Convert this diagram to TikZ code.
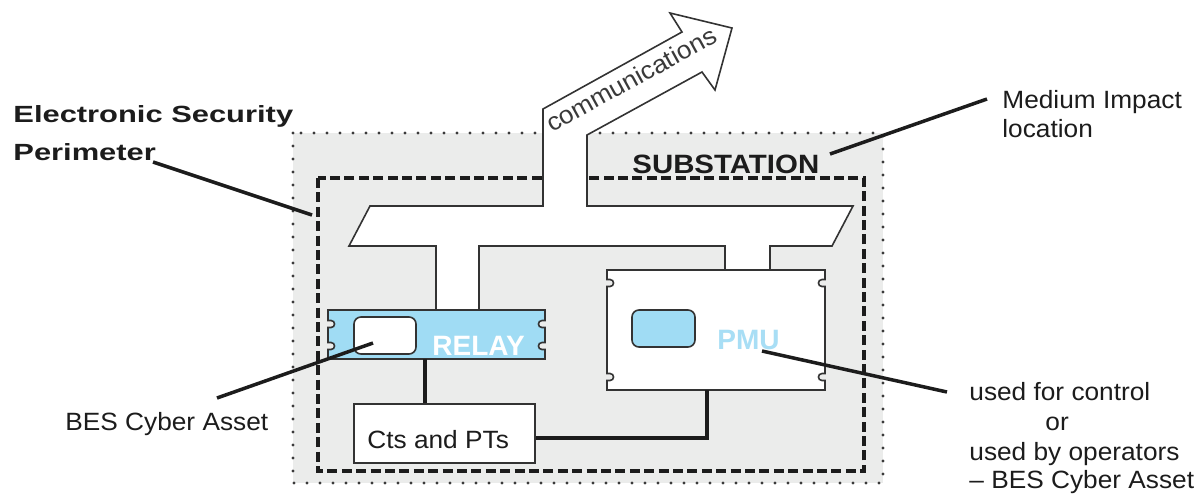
\documentclass[tikz,border=0pt]{standalone}
\usepackage{fontspec}
\usepackage{graphicx}
\setmainfont{Liberation Sans}
\definecolor{bggray}{HTML}{EBECEB}
\definecolor{relayblue}{HTML}{A0DCF4}
\definecolor{pmublue}{HTML}{A8DEF5}
\definecolor{linegray}{HTML}{333333}
\definecolor{dotgray}{HTML}{3A3A3A}
\definecolor{inkdark}{HTML}{1C1C1C}
\definecolor{commgray}{HTML}{3A3A3A}
\newcommand{\wtext}[2]{\scalebox{#1}[1]{#2}}
\newcommand{\regtext}[1]{\fontsize{12.5pt}{15pt}\selectfont\wtext{1.05}{#1}}
\newcommand{\notchbox}[7]{%
  \draw[boxline,fill=#7] (#1,#2) -- (#3,#2) -- (#3,#5-3.5) -- (#3-3,#5-3.5)
    .. controls (#3-7.7,#5-3.5) and (#3-7.7,#5+3.5) .. (#3-3,#5+3.5) -- (#3,#5+3.5)
    -- (#3,#6-3.5) -- (#3-3,#6-3.5)
    .. controls (#3-7.7,#6-3.5) and (#3-7.7,#6+3.5) .. (#3-3,#6+3.5) -- (#3,#6+3.5)
    -- (#3,#4) -- (#1,#4) -- (#1,#6+3.5) -- (#1+3,#6+3.5)
    .. controls (#1+7.7,#6+3.5) and (#1+7.7,#6-3.5) .. (#1+3,#6-3.5) -- (#1,#6-3.5)
    -- (#1,#5+3.5) -- (#1+3,#5+3.5)
    .. controls (#1+7.7,#5+3.5) and (#1+7.7,#5-3.5) .. (#1+3,#5-3.5) -- (#1,#5-3.5)
    -- cycle;}
\tikzset{
  outerzone/.style={fill=bggray, draw=dotgray, line width=1.6pt, dash pattern=on 0pt off 6.5pt, line cap=round},
  espline/.style={draw=inkdark, line width=1.8pt, dash pattern=on 5pt off 2.2pt},
  commshape/.style={fill=white, draw=linegray, line width=0.8pt, line join=miter},
  boxline/.style={draw=linegray, line width=0.8pt},
  screen/.style={boxline, rounded corners=3.5pt, inner sep=0pt},
  anchorbox/.style={inner sep=0pt},
  callout/.style={draw=inkdark, line width=1.75pt},
  wire/.style={draw=inkdark, line width=2pt},
  lbl/.style={inner sep=0pt, anchor=base west, text=inkdark}
}
\begin{document}
\begin{tikzpicture}[x=0.5pt,y=-0.5pt]
\useasboundingbox (0,0) rectangle (1201,495);
% zones
\draw[outerzone] (293,133) rectangle (883,483);
\draw[espline] (318,178) rectangle (864,471);
% communications network shape
\draw[commshape] (349,246) -- (370,206) -- (543,206) -- (543,109) -- (682,32) -- (670,13)
  -- (732,28) -- (715,90) -- (702,72) -- (587,135) -- (587,206) -- (853,206) -- (832,246)
  -- (770,246) -- (770,270) -- (725,270) -- (725,246) -- (479,246) -- (479,310) -- (436,310)
  -- (436,246) -- cycle;
\node[lbl, rotate=28.8, text=commgray] (comm) at (552,133) {\fontsize{12.5pt}{14pt}\selectfont\wtext{1.05}{communications}};
% relay
\notchbox{328}{310}{545}{359}{324}{346}{relayblue}
\node[anchorbox, minimum width=108.5pt, minimum height=24.5pt] (relay) at (436.5,334.5) {};
\node[screen, fill=white, minimum width=31pt, minimum height=18.5pt] (relayscreen) at (385,335.5) {};
\node[lbl, text=white] (relaytext) at (432,355) {\fontsize{14pt}{16pt}\selectfont\bfseries RELAY};
% PMU
\notchbox{607}{270}{825}{390}{283}{377}{white}
\node[anchorbox, minimum width=109pt, minimum height=60pt] (pmu) at (716,330) {};
\node[screen, fill=relayblue, minimum width=31.5pt, minimum height=18.5pt] (pmuscreen) at (663.5,328.5) {};
\node[lbl, text=pmublue] (pmutext) at (717,349) {\fontsize{14pt}{16pt}\selectfont\bfseries PMU};
% CTs and PTs
\node[boxline, fill=white, inner sep=0pt, minimum width=90.5pt, minimum height=29.5pt] (cts) at (444.5,433.5) {};
\node[lbl] (ctstext) at (367,448) {\regtext{Cts and PTs}};
% wires
\coordinate (rc) at (425,0);
\coordinate (pc) at (707,0);
\coordinate (wy) at (0,438);
\draw[wire] (relay.south -| rc) -- (cts.north -| rc);
\draw[wire] (pmu.south -| pc) |- (cts.east |- wy);
% labels
\node[lbl] (esp1) at (13,122) {\fontsize{11.7pt}{14pt}\selectfont\bfseries\wtext{1.32}{Electronic Security}};
\node[lbl] (esp2) at (13,160) {\fontsize{11.7pt}{14pt}\selectfont\bfseries\wtext{1.32}{Perimeter}};
\node[lbl] (sub) at (632,173) {\fontsize{13.25pt}{15pt}\selectfont\bfseries\wtext{1.11}{SUBSTATION}};
\node[lbl] (mi1) at (1002,108) {\regtext{Medium Impact}};
\node[lbl] (mi2) at (1002,137) {\regtext{location}};
\node[lbl] (bes) at (65,430) {\regtext{BES Cyber Asset}};
\node[lbl] (use1) at (969,400) {\regtext{used for control}};
\node[lbl] (use2) at (1045,430) {\regtext{or}};
\node[lbl] (use3) at (969,460) {\regtext{used by operators}};
\node[lbl] (use4) at (969,488) {\regtext{– BES Cyber Asset}};
% callouts
\coordinate (espS) at (153,162);
\coordinate (espT) at (312,215);
\coordinate (miS) at (987,99);
\coordinate (miT) at (830,154);
\coordinate (besS) at (217,398);
\coordinate (besT) at (373,343);
\coordinate (pmuS) at (762,351);
\coordinate (pmuT) at (947,392);
\draw[callout] (espS) -- (espT);
\draw[callout] (miS) -- (miT);
\draw[callout] (besS) -- (besT);
\draw[callout] (pmuS) -- (pmuT);
\end{tikzpicture}
\end{document}
